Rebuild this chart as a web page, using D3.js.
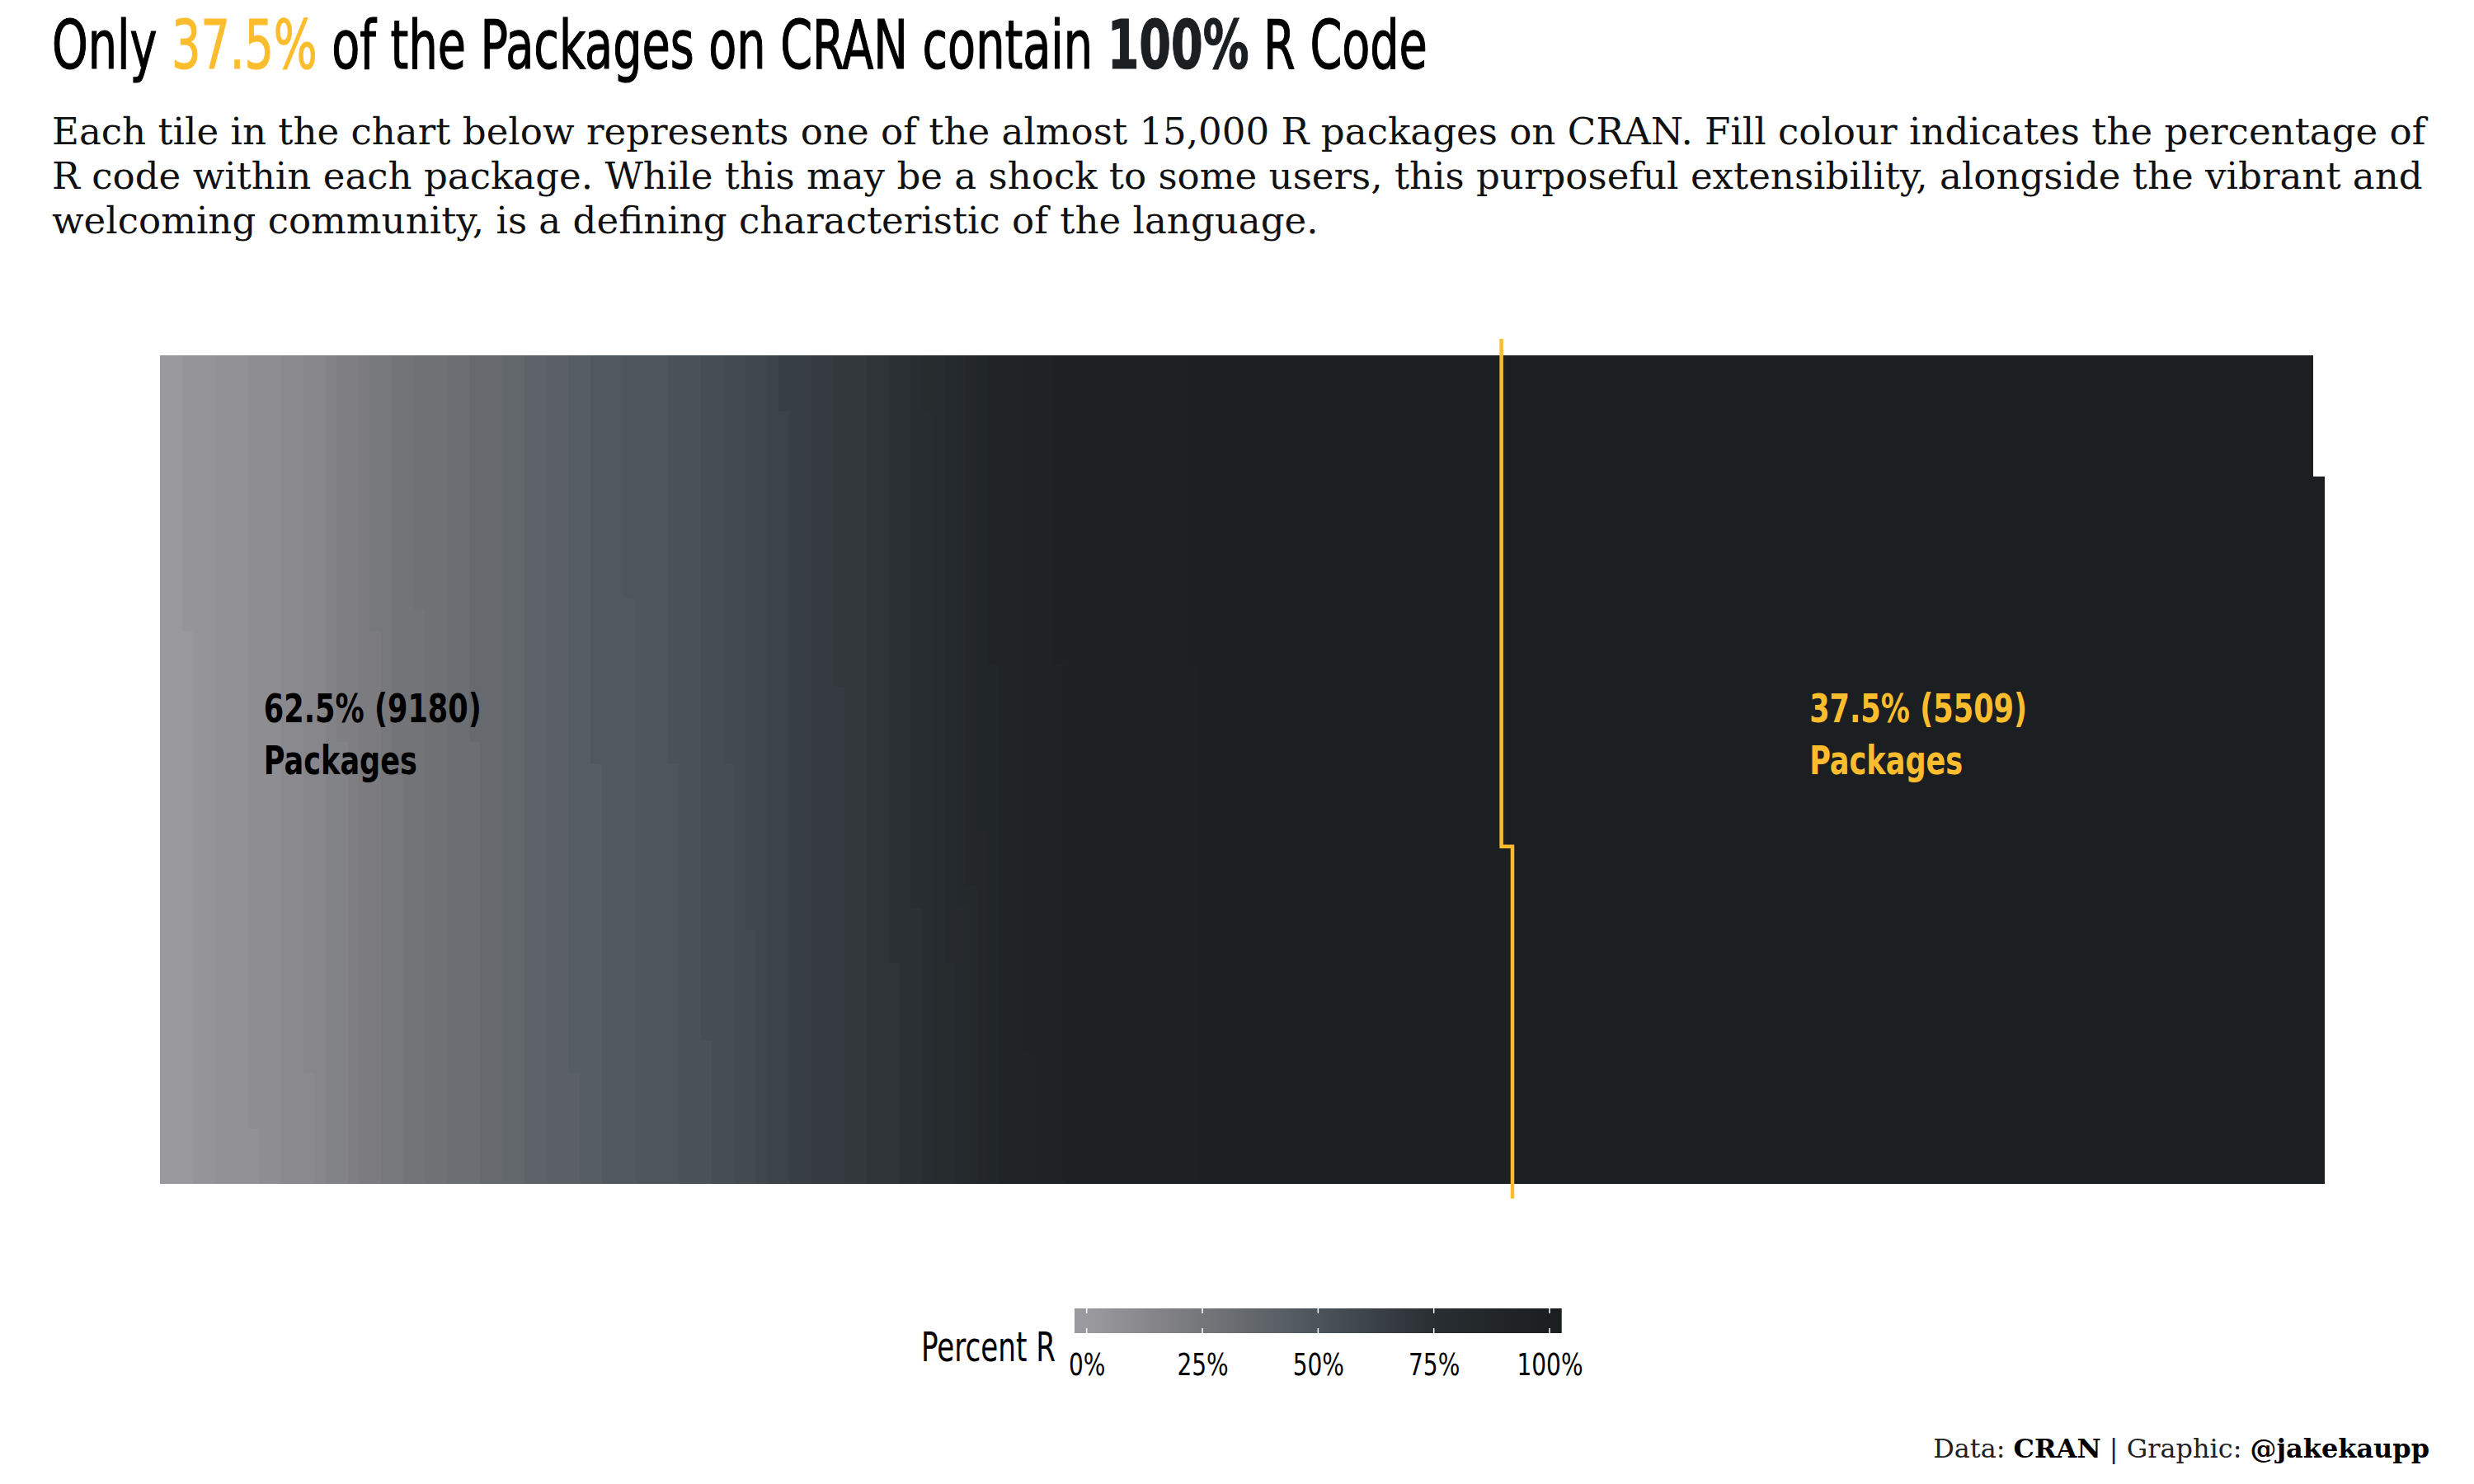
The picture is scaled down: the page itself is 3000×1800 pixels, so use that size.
<!DOCTYPE html>
<html>
<head>
<meta charset="utf-8">
<script src="https://cdn.jsdelivr.net/npm/d3@7"></script>
<style>
  body { margin: 0; background: #ffffff; }
  .cond { font-family: "Liberation Sans Narrow", "DejaVu Sans Condensed", "Roboto", sans-serif; }
  .serif { font-family: "DejaVu Serif", "Liberation Serif", serif; }
</style>
</head>
<body>
<div id="chart"></div>
<script>
var binValue = [1.25, 3.75, 6.25, 8.75, 11.25, 13.75, 16.25, 18.75, 21.25, 23.75,
  26.25, 28.75, 31.25, 33.75, 36.25, 38.75, 41.25, 43.75, 46.25, 48.75,
  51.25, 53.75, 56.25, 58.75, 61.25, 63.75, 66.25, 68.75, 71.25, 73.75,
  76.25, 78.75, 81.25, 83.75, 86.25, 88.75, 91.25, 93.75, 96.25, 98.75, 100];
var binCount = [200, 175, 230, 220, 160, 140, 115, 110, 125, 137,
  165, 173, 190, 185, 150, 150, 160, 178, 240, 285,
  200, 175, 135, 127, 145, 155, 195, 180, 170, 155,
  120, 100, 80, 77, 80, 90, 190, 260, 900, 2158, 5509];

// legend
var legendBreaks = [0, 25, 50, 75, 100];
var paletteStops = [0, 25, 50, 75, 100];
var paletteColors = ["#9b9a9f", "#75767a", "#4b545b", "#292e32", "#1b1f21"];

var nRows = 75;
var yellow = "#fbbd2e";
var dark = "#1b1f21";
var condFont = "'Liberation Sans Narrow', 'DejaVu Sans Condensed', sans-serif";

var W = 3000, H = 1800;

var svg = d3.select("#chart").append("svg")
  .attr("width", W).attr("height", H)
  .attr("viewBox", "0 0 " + W + " " + H);

// expand bins into one tile per package
var tiles = [];
binValue.forEach(function (v, i) {
  for (var j = 0; j < binCount[i]; j++) tiles.push(v);
});
var total = tiles.length;
var nCols = Math.ceil(total / nRows);
var nNotFull = d3.sum(binCount.filter(function (c, i) { return binValue[i] < 100; }));
var nFull = total - nNotFull;
var pctFull = d3.format(".1%")(nFull / total);
var pctNot = d3.format(".1%")(nNotFull / total);

var x = d3.scaleLinear().domain([0, nCols]).range([194, 2818]);
var y = d3.scaleLinear().domain([0, nRows]).range([1435, 431]);
var color = d3.scaleLinear().domain(paletteStops).range(paletteColors).interpolate(d3.interpolateRgb);

// fits a text element horizontally to a given width
function fitWidth(sel, target, anchorX) {
  var w = sel.node().getBBox().width;
  var s = target / w;
  sel.attr("transform", "translate(" + anchorX + ",0) scale(" + s + ",1) translate(" + (-anchorX) + ",0)");
  return s;
}

// title
var title = svg.append("text").attr("class", "cond")
  .attr("x", 63).attr("y", 83)
  .style("font-size", "82px").style("fill", "#000")
  .style("stroke", "#000").style("stroke-width", 1.2);
title.append("tspan").text("Only ");
title.append("tspan").style("fill", yellow).style("stroke", yellow).text(pctFull);
title.append("tspan").text(" of the Packages on CRAN contain ");
title.append("tspan").style("font-weight", "bold").style("fill", dark).style("stroke", dark).text("100%");
title.append("tspan").text(" R Code");
fitWidth(title, 1668, 63);

// subtitle
var subLines = [
  "Each tile in the chart below represents one of the almost 15,000 R packages on CRAN. Fill colour indicates the percentage of",
  "R code within each package. While this may be a shock to some users, this purposeful extensibility, alongside the vibrant and",
  "welcoming community, is a defining characteristic of the language."
];
var subs = subLines.map(function (t, i) {
  return svg.append("text").attr("class", "serif")
    .attr("x", 63).attr("y", 175 + i * 54)
    .style("font-size", "45px").style("fill", "#111").text(t);
});
var sScale = 2883 / subs[0].node().getBBox().width;
subs.forEach(function (s) {
  s.attr("transform", "translate(63,0) scale(" + sScale + ",1) translate(-63,0)");
});

// tiles
svg.append("g").attr("shape-rendering", "crispEdges")
  .selectAll("rect").data(tiles).enter().append("rect")
  .attr("x", function (d, i) { return x(Math.floor(i / nRows)); })
  .attr("y", function (d, i) { return y(i % nRows + 1); })
  .attr("width", x(1) - x(0) + 0.6)
  .attr("height", y(0) - y(1) + 0.6)
  .style("fill", function (d) { return color(d); });

// divider line
var k = Math.floor(nNotFull / nRows), rem = nNotFull % nRows;
var pts = [[k - 0.5, nRows + 1.5], [k - 0.5, rem + 0.5], [k + 0.5, rem + 0.5], [k + 0.5, -1.4]];
svg.append("path")
  .attr("d", d3.line().x(function (d) { return x(d[0]); }).y(function (d) { return y(d[1]); })(pts))
  .style("fill", "none").style("stroke", yellow).style("stroke-width", 4.5)
  .style("stroke-linejoin", "miter");

// group labels
function groupLabel(col, txt, fill) {
  var t1 = svg.append("text").attr("class", "cond")
    .attr("x", x(col)).attr("y", y(41.75))
    .style("font-size", "48px").style("font-weight", "bold").style("fill", fill).text(txt);
  fitWidth(t1, 264, x(col));
  var t2 = svg.append("text").attr("class", "cond")
    .attr("x", x(col)).attr("y", y(41.75) + 63)
    .style("font-size", "48px").style("font-weight", "bold").style("fill", fill).text("Packages");
  t2.attr("transform", t1.attr("transform"));
}
groupLabel(9.4, pctNot + " (" + nNotFull + ")", "#000");
groupLabel(149.4, pctFull + " (" + nFull + ")", yellow);

// legend
var lx = d3.scaleLinear().domain([0, 100]).range([1317.7, 1879]);
var barTop = 1587, barH = 30;
var grad = svg.append("defs").append("linearGradient").attr("id", "lg")
  .attr("gradientUnits", "userSpaceOnUse")
  .attr("x1", lx(0)).attr("x2", lx(100)).attr("y1", 0).attr("y2", 0);
paletteStops.forEach(function (p, i) {
  grad.append("stop").attr("offset", p / 100).attr("stop-color", paletteColors[i]);
});
svg.append("rect")
  .attr("x", lx(-2.625)).attr("y", barTop)
  .attr("width", lx(102.625) - lx(-2.625)).attr("height", barH)
  .style("fill", "url(#lg)");
legendBreaks.forEach(function (b) {
  svg.append("line").attr("x1", lx(b)).attr("x2", lx(b)).attr("y1", barTop).attr("y2", barTop + 6)
    .style("stroke", "#fff").style("stroke-width", 1.5);
  svg.append("line").attr("x1", lx(b)).attr("x2", lx(b)).attr("y1", barTop + barH - 6).attr("y2", barTop + barH)
    .style("stroke", "#fff").style("stroke-width", 1.5);
});
var lax = svg.append("g").attr("transform", "translate(0,1668)")
  .call(d3.axisBottom(lx).tickValues(legendBreaks).tickSize(0).tickPadding(0)
    .tickFormat(function (d) { return d + "%"; }));
lax.select(".domain").remove();
lax.attr("font-family", condFont).attr("font-size", 38);
lax.selectAll("text").attr("y", 0).attr("dy", 0)
  .attr("transform", "scale(0.82,1)")
  .style("font-family", condFont).style("font-size", "38px").style("fill", "#000");

var lt = svg.append("text").attr("class", "cond")
  .attr("x", 1280).attr("y", 1651).attr("text-anchor", "end")
  .style("font-size", "49px").style("fill", "#000").text("Percent R");
fitWidth(lt, 163, 1280);

// caption
var cap = svg.append("text").attr("class", "serif")
  .attr("x", 2946).attr("y", 1768).attr("text-anchor", "end")
  .style("font-size", "32px").style("fill", "#222");
cap.append("tspan").text("Data: ");
cap.append("tspan").style("font-weight", "bold").style("fill", "#000").text("CRAN");
cap.append("tspan").text(" | Graphic: ");
cap.append("tspan").style("font-weight", "bold").style("fill", "#000").text("@jakekaupp");
fitWidth(cap, 602, 2946);
</script>
</body>
</html>
